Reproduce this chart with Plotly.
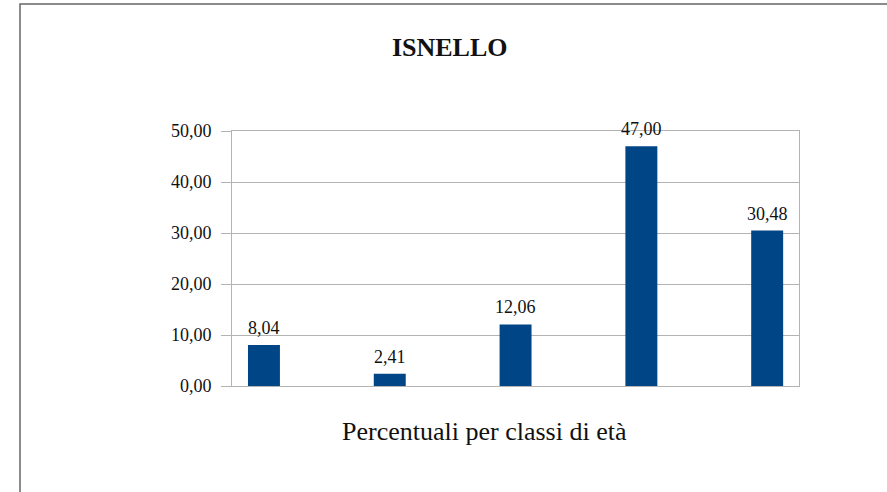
import plotly.graph_objects as go

# Percent share per age class, Isnello
positions = [0, 1, 2, 3, 4]
values = [8.04, 2.41, 12.06, 47.00, 30.48]
y_ticks = [0, 10, 20, 30, 40, 50]

chart_title = "ISNELLO"
axis_caption = "Percentuali per classi di età"

BAR_COLOR = "#004586"
GRID_COLOR = "#b3b3b3"
FONT = "'Liberation Serif', 'Times New Roman', 'DejaVu Serif', serif"


def it_num(v):
    return f"{v:.2f}".replace(".", ",")


fig = go.Figure(
    go.Bar(
        x=positions,
        y=values,
        width=0.254,
        marker=dict(color=BAR_COLOR, line=dict(width=0)),
        hoverinfo="skip",
    )
)

# value labels above each bar
for xp, v in zip(positions, values):
    fig.add_annotation(
        x=xp, y=v, text=it_num(v), showarrow=False,
        xanchor="center", yanchor="bottom", yshift=5,
        font=dict(family=FONT, size=18, color="#111"),
    )

# caption under the plot area
fig.add_annotation(
    xref="paper", yref="paper", x=0.4453, y=-0.18,
    text=axis_caption, showarrow=False,
    xanchor="center", yanchor="middle",
    font=dict(family=FONT, size=26, color="#111"),
)

# outer frame of the chart
fig.add_shape(
    type="rect", xref="paper", yref="paper",
    x0=-0.3739, x1=1.6, y0=-1.0, y1=1.498,
    line=dict(color="#666666", width=1.5), fillcolor="rgba(0,0,0,0)",
    layer="below",
)

fig.update_layout(
    width=887, height=492,
    margin=dict(l=232, r=88, t=131, b=106),
    paper_bgcolor="white", plot_bgcolor="white",
    separators=",.",
    showlegend=False,
    font=dict(family=FONT),
    title=dict(
        text=f"<b>{chart_title}</b>", xref="container", yref="container",
        x=0.507, y=1 - 47 / 492, xanchor="center", yanchor="middle",
        font=dict(family=FONT, size=26, color="#111"),
    ),
    xaxis=dict(
        range=[-0.254, 4.253], showticklabels=False, ticks="",
        showgrid=False, zeroline=False,
        showline=True, mirror=True, linecolor=GRID_COLOR, linewidth=1,
        fixedrange=True,
    ),
    yaxis=dict(
        range=[0, 50], tickvals=y_ticks, tickformat=".2f",
        ticks="outside", ticklen=10, tickcolor=GRID_COLOR, tickwidth=1,
        ticklabelstandoff=6,
        showgrid=True, gridcolor=GRID_COLOR, gridwidth=1,
        zeroline=False,
        showline=True, mirror=True, linecolor=GRID_COLOR, linewidth=1,
        tickfont=dict(family=FONT, size=18, color="#111"),
        fixedrange=True,
    ),
)

fig.write_html("out.html")
